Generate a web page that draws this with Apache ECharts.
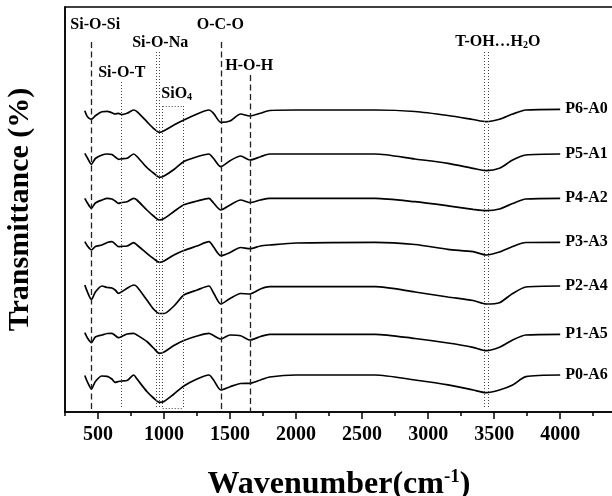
<!DOCTYPE html>
<html>
<head>
<meta charset="utf-8">
<script src="https://cdn.jsdelivr.net/npm/echarts@6/dist/echarts.min.js"></script>
<style>
  html, body { margin: 0; padding: 0; background: #fff; }
  #chart { width: 612px; height: 496px; }
</style>
</head>
<body>
<div id="chart"></div>
<script>
// wavenumber grid (cm-1) shared by all spectra
const wavenumber = [400, 420, 450, 480, 530, 570, 605, 630, 655, 680, 720, 770, 795, 870, 920, 965, 1000, 1075, 1150, 1250,
  1340, 1375, 1430, 1500, 1580, 1650, 1730, 1800, 2000, 2600, 2900, 3150, 3340, 3440, 3540, 3640, 3740, 4000];

// offset transmittance (arbitrary units, stacked)
const p6a0 = [301.3, 295.3, 292.7, 296.3, 300.3, 300.7, 299.3, 298, 298.7, 297.3, 298.7, 302, 300.3, 290.3, 283.7, 279.7, 281.3, 287, 292, 298,
  302, 298.7, 289.7, 291, 298, 296, 298.7, 301.5, 302, 302, 300.5, 296.5, 292.5, 290.3, 292.7, 298, 302, 302.7];
const p5a1 = [258.7, 254, 247.7, 253.5, 257, 258, 257.5, 255, 252.7, 253.2, 253.7, 258, 255.5, 244.5, 239, 234.7, 236, 242.5, 250.5, 255.3,
  258, 253.5, 245.3, 251.3, 256, 252, 255.3, 258, 258, 258, 253, 248.7, 243.7, 241.3, 243.7, 252, 257, 258];
const p4a2 = [213.7, 209, 203.7, 209, 212, 213.7, 213, 211, 208.7, 209.5, 210.3, 213.7, 212, 202, 196, 192, 193.5, 200.5, 207.2, 211,
  213.7, 209, 202, 207, 212, 209.3, 212, 213.7, 213.7, 213.7, 210.3, 206.2, 202.7, 201.3, 203, 208.5, 213, 213.7];
const p3a3 = [170.3, 166, 162, 165.5, 167, 169.5, 170.3, 168, 165.3, 165.7, 166, 169.3, 167, 158.7, 153.5, 149.7, 151, 157, 161.5, 166,
  170.3, 165, 156.3, 159.5, 164.5, 163.3, 166, 167, 169, 169.7, 167.5, 162.7, 160.3, 157, 160, 165.5, 169.5, 169.7];
const p2a4 = [127, 120, 112.5, 120, 126, 124.5, 124, 122, 118.7, 120.3, 123.7, 127, 125.3, 112, 103, 98.5, 98.5, 106, 117, 122,
  126, 119, 108, 113.5, 118.5, 118, 123, 125.3, 125.3, 125.3, 120, 115, 111.5, 108, 109.3, 118.5, 125, 126];
const p1a5 = [79.3, 74, 69.3, 75, 77, 78.5, 78.7, 76.5, 74.3, 75.5, 78, 78.7, 77, 70.5, 64, 58.7, 60, 66.5, 71.5, 76,
  78.7, 76.5, 73, 77, 76.3, 72, 75.5, 77.7, 77.7, 77.7, 73.5, 69, 64.7, 61.3, 64.7, 72, 77, 77.7];
const p0a6 = [36.5, 30, 23, 30.5, 36, 35.7, 33, 29.7, 30.5, 31, 31.5, 37, 33, 20.5, 14, 9.7, 10.5, 18, 26, 33,
  37, 32, 22, 25.3, 28.5, 28.7, 32, 35, 37, 37, 32, 27.2, 22, 19.3, 22, 27, 35.3, 37];

const sampleNames = ['P6-A0', 'P5-A1', 'P4-A2', 'P3-A3', 'P2-A4', 'P1-A5', 'P0-A6'];
const sampleValues = [p6a0, p5a1, p4a2, p3a3, p2a4, p1a5, p0a6];

// band assignments and their wavenumbers
const bandNames = ['Si-O-Si', 'Si-O-T', 'Si-O-Na', 'SiO{sub|4}', 'O-C-O', 'H-O-H', 'T-OH…H{sub|2}O'];
const bandWavenumbers = [[450], [678], [942, 967], [990, 1142], [1430], [1650], [3422, 3455]];

const majorTicks = [500, 1000, 1500, 2000, 2500, 3000, 3500, 4000];
const minorTicks = [250, 750, 1250, 1750, 2250, 2750, 3250, 3750, 4250];

const FONT = "'Times New Roman', 'Liberation Serif', serif";

// layout of the annotation lines / labels (in axis units)
const lineTop = [370, 330, 360, 306, 370, 337, 360];
const isDashed = [true, false, false, false, true, true, false];
const labelAt = [[479, 387], [680, 339], [971, 369], [1096, 318], [1426, 387], [1645, 346], [3528, 370]];

const dashStyle = { color: '#222', width: 1.3, type: [6, 3.5] };
const dotStyle = { color: '#444', width: 1, type: [1, 2] };

const markLines = [];
bandWavenumbers.forEach(function (ws, i) {
  ws.forEach(function (w) {
    markLines.push([
      { coord: [w, lineTop[i]], lineStyle: isDashed[i] ? dashStyle : dotStyle },
      { coord: [w, isDashed[i] ? 0 : 4] }
    ]);
  });
});
// SiO4 bracket top and bottom
markLines.push([{ coord: [bandWavenumbers[3][0], lineTop[3]], lineStyle: dotStyle }, { coord: [bandWavenumbers[3][1], lineTop[3]] }]);
markLines.push([{ coord: [bandWavenumbers[3][0], 4], lineStyle: dotStyle }, { coord: [bandWavenumbers[3][1], 4] }]);

const markPoints = bandNames.map(function (name, i) {
  return { coord: labelAt[i], value: name };
});

const series = sampleNames.map(function (name, i) {
  return {
    name: name,
    type: 'line',
    data: wavenumber.map(function (w, j) { return [w, sampleValues[i][j]]; }),
    showSymbol: false,
    smooth: 0.25,
    lineStyle: { color: '#000', width: 1.7 },
    endLabel: {
      show: true,
      formatter: name,
      color: '#000',
      fontFamily: FONT,
      fontWeight: 'bold',
      fontSize: 16,
      distance: 5
    },
    silent: true
  };
});

series.push({
  name: 'bands',
  type: 'line',
  data: [],
  silent: true,
  markLine: {
    silent: true,
    symbol: ['none', 'none'],
    label: { show: false },
    data: markLines
  },
  markPoint: {
    silent: true,
    symbol: 'circle',
    symbolSize: 0,
    label: {
      show: true,
      position: 'inside',
      formatter: '{c}',
      color: '#000',
      fontFamily: FONT,
      fontWeight: 'bold',
      fontSize: 16,
      rich: {
        sub: { fontSize: 10, fontFamily: FONT, fontWeight: 'bold', color: '#000', verticalAlign: 'bottom', padding: [6, 0, 0, 0] }
      }
    },
    data: markPoints
  }
});

const chart = echarts.init(document.getElementById('chart'), null, { renderer: 'canvas' });

chart.setOption({
  backgroundColor: '#fff',
  animation: false,
  grid: {
    left: 65, right: -1, top: 7, height: 405,
    outerBoundsMode: 'none',
    containLabel: false,
    show: true, borderColor: '#000', borderWidth: 1.5, backgroundColor: 'transparent'
  },
  xAxis: [
    {
      type: 'value', min: 250, max: 4400, position: 'bottom',
      axisLine: { lineStyle: { color: '#000', width: 1.5 } },
      axisTick: { show: true, length: 7, customValues: majorTicks, lineStyle: { color: '#000', width: 1.5 } },
      axisLabel: {
        customValues: majorTicks, color: '#000', fontFamily: FONT, fontWeight: 'bold', fontSize: 20, margin: 13,
        formatter: function (v) { return String(v); }
      },
      splitLine: { show: false },
      name: 'Wavenumber(cm{sup|-1})',
      nameLocation: 'middle',
      nameGap: 56,
      nameTextStyle: {
        color: '#000', fontFamily: FONT, fontWeight: 'bold', fontSize: 32, lineHeight: 34,
        rich: {
          sup: { fontSize: 19, fontFamily: FONT, fontWeight: 'bold', color: '#000', verticalAlign: 'top', lineHeight: 34 }
        }
      }
    },
    {
      type: 'value', min: 250, max: 4400, position: 'bottom', offset: 0,
      axisLine: { show: false },
      axisTick: { show: true, length: 4, customValues: minorTicks, lineStyle: { color: '#000', width: 1.5 } },
      axisLabel: { show: false },
      splitLine: { show: false }
    }
  ],
  yAxis: {
    type: 'value', min: 0, max: 405,
    axisLine: { show: true, lineStyle: { color: '#000', width: 1.5 } },
    axisTick: { show: false },
    axisLabel: { show: false },
    splitLine: { show: false },
    name: 'Transmittance (%)',
    nameLocation: 'middle',
    nameGap: 30,
    nameTextStyle: { color: '#000', fontFamily: FONT, fontWeight: 'bold', fontSize: 30 }
  },
  series: series
});
</script>
</body>
</html>
